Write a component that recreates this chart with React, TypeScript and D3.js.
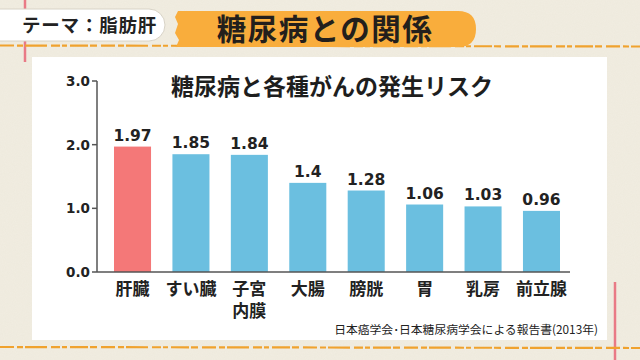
import React from "react";
import * as d3 from "d3";

// chart data
const categories = ["肝臓", "すい臓", "子宮\n内膜", "大腸", "膀胱", "胃", "乳房", "前立腺"];
const riskValues = [1.97, 1.85, 1.84, 1.4, 1.28, 1.06, 1.03, 0.96];
const valueLabels = ["1.97", "1.85", "1.84", "1.4", "1.28", "1.06", "1.03", "0.96"];
const yTicks = [0, 1, 2, 3];

const themeLabel = "テーマ：脂肪肝";
const bannerTitle = "糖尿病との関係";
const chartTitle = "糖尿病と各種がんの発生リスク";
const sourceNote = "日本癌学会･日本糖尿病学会による報告書(2013年)";

const W = 640;
const H = 360;
const FONT = "'Noto Sans CJK JP', 'Noto Sans', sans-serif";
const NUM_FONT = "'DejaVu Sans', 'Noto Sans CJK JP', sans-serif";

export default function App() {
  // plot geometry
  const axisX = 97;
  const axisRight = 570;
  const y = d3.scaleLinear().domain([0, 3]).range([272, 81]);
  const x = d3
    .scaleBand<string>()
    .domain(categories)
    .range([114, 560])
    .paddingInner(0.366)
    .paddingOuter(0);
  const cx = (c: string) => (x(c) ?? 0) + x.bandwidth() / 2;

  const dash = "14 3 6 2 22 4 9 2 5 3 18 2 7 4";

  return (
    <svg
      width={W}
      height={H}
      viewBox={`0 0 ${W} ${H}`}
      style={{ position: "fixed", left: 0, top: 0, fontFamily: FONT }}
    >
      <defs>
        <filter id="paper" x="0" y="0" width="100%" height="100%">
          <feTurbulence type="fractalNoise" baseFrequency="0.9" numOctaves="2" seed="3" result="n" />
          <feColorMatrix
            in="n"
            type="matrix"
            values="0 0 0 0 0.6  0 0 0 0 0.56  0 0 0 0 0.45  0 0 0 0.3 0"
          />
        </filter>
      </defs>

      {/* background */}
      <rect width={W} height={H} fill="#f1ede1" />
      <rect width={W} height={H} filter="url(#paper)" opacity={0.3} />

      {/* decorative lines */}
      <line x1={25} y1={0} x2={25} y2={62} stroke="#e97a86" strokeWidth={2.5} />
      <line x1={615} y1={282} x2={615} y2={360} stroke="#e97a86" strokeWidth={2.5} />
      <line x1={0} y1={45.5} x2={W} y2={46.5} stroke="#f0a22e" strokeWidth={2.2} strokeDasharray={dash} />
      <line x1={0} y1={347} x2={W} y2={348} stroke="#f0a22e" strokeWidth={2.2} strokeDasharray={dash} />

      {/* white panel */}
      <rect x={32} y={57} width={575} height={283} fill="#ffffff" />

      {/* theme tag */}
      <rect x={-16} y={9} width={181} height={32} rx={16} fill="#ffffff" stroke="#d8d3c6" strokeWidth={1} />
      <text x={22} y={32} fontSize={18.5} fontWeight={700} fill="#222" letterSpacing={0.8}>
        {themeLabel}
      </text>

      {/* orange banner */}
      <path
        d="M178,11 L458,11 Q476,11 476,29 Q476,47 458,47 L176,47 L179,40 L175,33 L178,24 L175,17 Z"
        fill="#f9ad3c"
      />
      <text x={325} y={40} textAnchor="middle" fontSize={29.5} fontWeight={700} fill="#231f1c" letterSpacing={1.5}>
        {bannerTitle}
      </text>

      {/* chart title */}
      <text x={332} y={95} textAnchor="middle" fontSize={23} fontWeight={700} fill="#1e1e1e">
        {chartTitle}
      </text>

      {/* y axis */}
      <line x1={axisX} y1={y(3)} x2={axisX} y2={y(0)} stroke="#555" strokeWidth={1.5} />
      {yTicks.map((t) => (
        <g key={t}>
          <line x1={axisX - 5} y1={y(t)} x2={axisX} y2={y(t)} stroke="#555" strokeWidth={1.5} />
          <text
            x={axisX - 7}
            y={y(t)}
            dy="0.36em"
            textAnchor="end"
            fontFamily={NUM_FONT}
            fontSize={13.5}
            fontWeight={700}
            fill="#222"
          >
            {d3.format(".1f")(t)}
          </text>
        </g>
      ))}

      {/* bars */}
      {categories.map((c, i) => (
        <rect
          key={c}
          x={x(c)}
          y={y(riskValues[i])}
          width={x.bandwidth()}
          height={y(0) - y(riskValues[i])}
          fill={i === 0 ? "#f47878" : "#6bbfe0"}
        />
      ))}

      {/* x axis */}
      <line x1={axisX} y1={y(0)} x2={axisRight} y2={y(0)} stroke="#555" strokeWidth={1.5} />

      {/* value labels */}
      {categories.map((c, i) => (
        <text
          key={c}
          x={cx(c)}
          y={y(riskValues[i]) - 6}
          textAnchor="middle"
          fontFamily={NUM_FONT}
          fontSize={15.5}
          fontWeight={700}
          fill="#222"
        >
          {valueLabels[i]}
        </text>
      ))}

      {/* category labels */}
      {categories.map((c) =>
        c.split("\n").map((line, j) => (
          <text
            key={c + j}
            x={cx(c)}
            y={295 + j * 21.5}
            textAnchor="middle"
            fontSize={17}
            fontWeight={700}
            fill="#222"
          >
            {line}
          </text>
        ))
      )}

      {/* source */}
      <text x={598} y={334} textAnchor="end" fontSize={11.8} fill="#222">
        {sourceNote}
      </text>
    </svg>
  );
}
